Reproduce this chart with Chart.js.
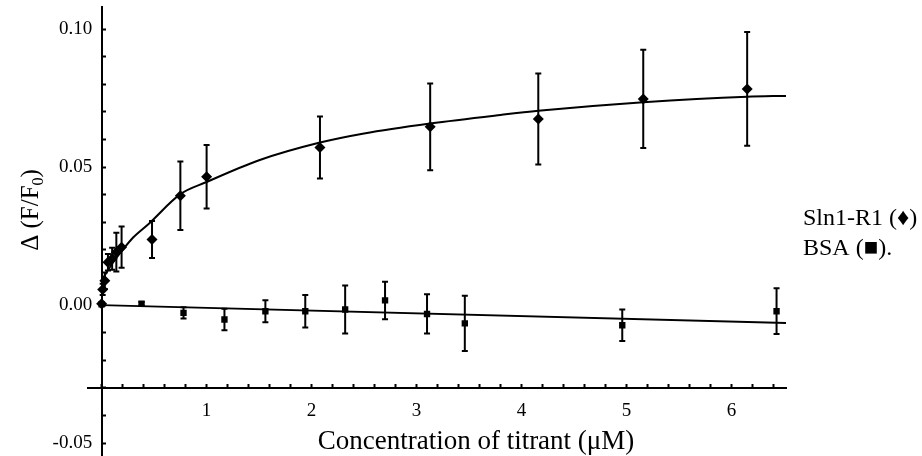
<!DOCTYPE html>
<html>
<head>
<meta charset="utf-8">
<script src="https://cdn.jsdelivr.net/npm/chart.js@4"></script>
<style>
  html, body { margin: 0; padding: 0; background: #fff; overflow: hidden; }
  #wrap { width: 922px; height: 456px; overflow: hidden; }
</style>
</head>
<body>
<div id="wrap"><canvas id="chart" width="922" height="463"></canvas></div>
<script>
// Sln1-R1 titration (diamonds) with error bars
const slnX = [0, 0.01, 0.03, 0.06, 0.1, 0.14, 0.19, 0.48, 0.75, 1.0, 2.08, 3.13, 4.16, 5.16, 6.15];
const slnY = [0.0005, 0.0057, 0.0088, 0.0155, 0.0168, 0.0192, 0.021, 0.0238, 0.0396, 0.0465, 0.0571, 0.0646, 0.0674, 0.0747, 0.0783];
const slnErr = [0, 0.002, 0.003, 0.003, 0.004, 0.007, 0.0075, 0.0067, 0.0124, 0.0115, 0.0112, 0.0157, 0.0165, 0.0178, 0.0206];

// BSA control (squares)
const bsaX = [0, 0.38, 0.78, 1.17, 1.56, 1.94, 2.32, 2.70, 3.10, 3.46, 4.96, 6.43];
const bsaY = [0.0003, 0.0005, -0.0028, -0.0052, -0.0022, -0.0022, -0.0016, 0.0017, -0.0032, -0.0066, -0.0073, -0.0022];
const bsaErr = [0, 0.0006, 0.002, 0.0039, 0.004, 0.0059, 0.0087, 0.0068, 0.0071, 0.010, 0.0057, 0.0083];

// fitted curves
const slnFitX = [0, 0.1, 0.2, 0.3, 0.45, 0.75, 1.0, 1.5, 2.08, 2.5, 3.13, 3.8, 4.16, 5.16, 6.15, 6.52];
const slnFitY = [0.009, 0.015, 0.02, 0.0245, 0.0295, 0.0402, 0.0446, 0.0525, 0.0589, 0.0622, 0.0658, 0.0689, 0.0704, 0.0735, 0.0755, 0.0758];
const bsaFitX = [0, 6.53];
const bsaFitY = [0.0, -0.0065];

// tick labels
const xTickLabels = [1, 2, 3, 4, 5, 6];
const yTickLabels = [-0.05, 0, 0.05, 0.10];

const serif = '"Liberation Serif", "DejaVu Serif", serif';

function pts(xs, ys) {
    return xs.map((x, i) => ({ x: x, y: ys[i] }));
}

// axes sit inside the plot, so they must not eat any layout room
function noRoom(s) {
    s.width = s.isHorizontal() ? s.width : 0;
    s.height = s.isHorizontal() ? 0 : s.height;
    s.paddingTop = 0; s.paddingBottom = 0;
    s.paddingLeft = 0; s.paddingRight = 0;
}

// Vertical error bars with caps
const errorBars = {
    id: 'errorBars',
    afterDatasetsDraw(chart) {
        const { ctx, scales: { x, y } } = chart;
        ctx.save();
        ctx.strokeStyle = '#000';
        ctx.lineWidth = 2;
        chart.data.datasets.forEach(ds => {
            if (!ds.errors) return;
            ds.data.forEach((p, i) => {
                const e = ds.errors[i];
                if (!e) return;
                const px = x.getPixelForValue(p.x);
                const top = y.getPixelForValue(p.y + e);
                const bot = y.getPixelForValue(p.y - e);
                ctx.beginPath();
                ctx.moveTo(px, top); ctx.lineTo(px, bot);
                ctx.moveTo(px - 3, top); ctx.lineTo(px + 3, top);
                ctx.moveTo(px - 3, bot); ctx.lineTo(px + 3, bot);
                ctx.stroke();
            });
        });
        ctx.restore();
    }
};

// Axis titles and the key on the right
const texts = {
    id: 'texts',
    afterDraw(chart) {
        const ctx = chart.ctx;
        ctx.save();
        ctx.fillStyle = '#000';
        ctx.textBaseline = 'alphabetic';

        ctx.font = '27px ' + serif;
        ctx.textAlign = 'center';
        ctx.fillText('Concentration of titrant (\u03BCM)', 476, 449);

        // y title, rotated, with subscript 0
        ctx.translate(38, 210);
        ctx.rotate(-Math.PI / 2);
        ctx.textAlign = 'left';
        const a = '\u0394 (F/F', b = '0', c = ')';
        ctx.font = '25px ' + serif;
        const wa = ctx.measureText(a).width, wc = ctx.measureText(c).width;
        ctx.font = '16px ' + serif;
        const wb = ctx.measureText(b).width;
        let sx = -(wa + wb + wc) / 2;
        ctx.font = '25px ' + serif;
        ctx.fillText(a, sx, 0);
        ctx.font = '16px ' + serif;
        ctx.fillText(b, sx + wa, 5);
        ctx.font = '25px ' + serif;
        ctx.fillText(c, sx + wa + wb, 0);
        ctx.setTransform(1, 0, 0, 1, 0, 0);

        ctx.font = '24px ' + serif;
        ctx.fillText('Sln1-R1 (\u2666)', 803, 225);
        ctx.fillText('BSA (\u25A0).', 803, 255);
        ctx.restore();
    }
};

const tickFont = { family: serif, size: 19 };

new Chart(document.getElementById('chart'), {
    type: 'scatter',
    data: {
        datasets: [
            {
                data: pts(slnFitX, slnFitY),
                showLine: true, borderColor: '#000', borderWidth: 2,
                pointRadius: 0, cubicInterpolationMode: 'monotone'
            },
            {
                data: pts(bsaFitX, bsaFitY),
                showLine: true, borderColor: '#000', borderWidth: 2, pointRadius: 0
            },
            {
                data: pts(slnX, slnY), errors: slnErr,
                pointStyle: 'rectRot', pointRadius: 5.5,
                backgroundColor: '#000', borderColor: '#000', borderWidth: 0
            },
            {
                data: pts(bsaX, bsaY), errors: bsaErr,
                pointStyle: 'rect', pointRadius: 4.5,
                backgroundColor: '#000', borderColor: '#000', borderWidth: 0
            }
        ]
    },
    options: {
        responsive: false,
        animation: false,
        layout: { padding: { left: 88, right: 136, top: 7, bottom: 0 } },
        plugins: { legend: { display: false }, tooltip: { enabled: false } },
        scales: {
            x: {
                type: 'linear', min: -0.13, max: 6.52,
                position: { y: -0.03 },
                afterFit: noRoom,
                border: { color: '#000', width: 2 },
                grid: { drawOnChartArea: false, tickLength: -5, tickWidth: 2, color: '#000' },
                ticks: {
                    stepSize: 0.2, includeBounds: false, autoSkip: false, maxRotation: 0,
                    padding: 17, color: '#000', font: tickFont,
                    callback: v => xTickLabels.includes(Math.round(v * 10) / 10) ? String(Math.round(v)) : ''
                }
            },
            y: {
                type: 'linear', min: -0.0552, max: 0.108,
                position: { x: 0 },
                afterFit: noRoom,
                border: { color: '#000', width: 2 },
                grid: { drawOnChartArea: false, tickLength: -5, tickWidth: 2, color: '#000' },
                ticks: {
                    stepSize: 0.01, includeBounds: false, autoSkip: false,
                    padding: 14, color: '#000', font: tickFont,
                    // trailing spaces keep the right-aligned labels clear of the axis line
                    callback: v => {
                        const r = Math.round(v * 100) / 100;
                        return yTickLabels.some(t => Math.abs(t - r) < 1e-9) ? r.toFixed(2) + '  ' : '';
                    }
                }
            }
        }
    },
    plugins: [errorBars, texts]
});
</script>
</body>
</html>
